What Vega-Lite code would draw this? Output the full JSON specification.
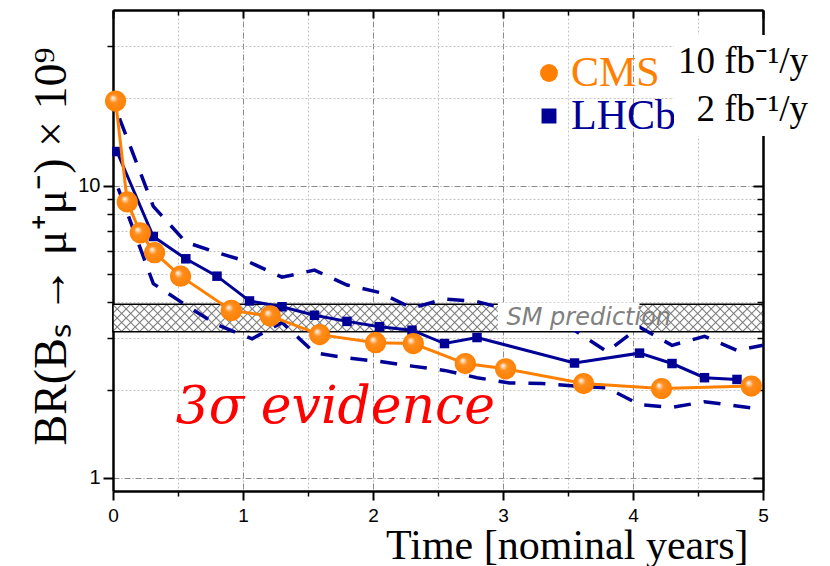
{
  "$schema": "https://vega.github.io/schema/vega-lite/v6.json",
  "width": 650,
  "height": 481,
  "autosize": {"type": "none"},
  "padding": {"left": 113, "top": 10, "right": 67, "bottom": 75},
  "background": "white",
  "config": {"view": {"stroke": null}},
  "datasets": {
    "cms": [
      {"t": 0.02, "br": 19.5, "exp": "CMS", "lumi": "10 fb⁻¹/y"},
      {"t": 0.11, "br": 8.8, "exp": "CMS", "lumi": "10 fb⁻¹/y"},
      {"t": 0.21, "br": 6.9, "exp": "CMS", "lumi": "10 fb⁻¹/y"},
      {"t": 0.32, "br": 5.9, "exp": "CMS", "lumi": "10 fb⁻¹/y"},
      {"t": 0.52, "br": 4.9, "exp": "CMS", "lumi": "10 fb⁻¹/y"},
      {"t": 0.91, "br": 3.74, "exp": "CMS", "lumi": "10 fb⁻¹/y"},
      {"t": 1.21, "br": 3.58, "exp": "CMS", "lumi": "10 fb⁻¹/y"},
      {"t": 1.59, "br": 3.09, "exp": "CMS", "lumi": "10 fb⁻¹/y"},
      {"t": 2.02, "br": 2.90, "exp": "CMS", "lumi": "10 fb⁻¹/y"},
      {"t": 2.31, "br": 2.88, "exp": "CMS", "lumi": "10 fb⁻¹/y"},
      {"t": 2.71, "br": 2.46, "exp": "CMS", "lumi": "10 fb⁻¹/y"},
      {"t": 3.02, "br": 2.36, "exp": "CMS", "lumi": "10 fb⁻¹/y"},
      {"t": 3.62, "br": 2.10, "exp": "CMS", "lumi": "10 fb⁻¹/y"},
      {"t": 4.22, "br": 2.02, "exp": "CMS", "lumi": "10 fb⁻¹/y"},
      {"t": 4.91, "br": 2.06, "exp": "CMS", "lumi": "10 fb⁻¹/y"}
    ],
    "lhcb": [
      {"t": 0.03, "br": 13.1, "exp": "LHCb", "lumi": "2 fb⁻¹/y"},
      {"t": 0.31, "br": 6.7, "exp": "LHCb", "lumi": "2 fb⁻¹/y"},
      {"t": 0.56, "br": 5.62, "exp": "LHCb", "lumi": "2 fb⁻¹/y"},
      {"t": 0.80, "br": 4.90, "exp": "LHCb", "lumi": "2 fb⁻¹/y"},
      {"t": 1.05, "br": 4.03, "exp": "LHCb", "lumi": "2 fb⁻¹/y"},
      {"t": 1.30, "br": 3.85, "exp": "LHCb", "lumi": "2 fb⁻¹/y"},
      {"t": 1.55, "br": 3.60, "exp": "LHCb", "lumi": "2 fb⁻¹/y"},
      {"t": 1.80, "br": 3.43, "exp": "LHCb", "lumi": "2 fb⁻¹/y"},
      {"t": 2.05, "br": 3.29, "exp": "LHCb", "lumi": "2 fb⁻¹/y"},
      {"t": 2.30, "br": 3.20, "exp": "LHCb", "lumi": "2 fb⁻¹/y"},
      {"t": 2.55, "br": 2.88, "exp": "LHCb", "lumi": "2 fb⁻¹/y"},
      {"t": 2.80, "br": 3.02, "exp": "LHCb", "lumi": "2 fb⁻¹/y"},
      {"t": 3.55, "br": 2.47, "exp": "LHCb", "lumi": "2 fb⁻¹/y"},
      {"t": 4.05, "br": 2.67, "exp": "LHCb", "lumi": "2 fb⁻¹/y"},
      {"t": 4.30, "br": 2.46, "exp": "LHCb", "lumi": "2 fb⁻¹/y"},
      {"t": 4.55, "br": 2.20, "exp": "LHCb", "lumi": "2 fb⁻¹/y"},
      {"t": 4.80, "br": 2.17, "exp": "LHCb", "lumi": "2 fb⁻¹/y"}
    ],
    "band": [
      {"side": "upper", "t": 0.05, "br": 17.0},
      {"side": "upper", "t": 0.31, "br": 8.5},
      {"side": "upper", "t": 0.56, "br": 6.41},
      {"side": "upper", "t": 0.80, "br": 5.90},
      {"side": "upper", "t": 1.05, "br": 5.47},
      {"side": "upper", "t": 1.30, "br": 4.86},
      {"side": "upper", "t": 1.55, "br": 5.14},
      {"side": "upper", "t": 1.80, "br": 4.57},
      {"side": "upper", "t": 2.05, "br": 4.31},
      {"side": "upper", "t": 2.30, "br": 3.81},
      {"side": "upper", "t": 2.55, "br": 4.09},
      {"side": "upper", "t": 2.80, "br": 4.01},
      {"side": "upper", "t": 3.05, "br": 3.75},
      {"side": "upper", "t": 3.30, "br": 3.49},
      {"side": "upper", "t": 3.55, "br": 3.20},
      {"side": "upper", "t": 3.80, "br": 2.70},
      {"side": "upper", "t": 4.05, "br": 3.28},
      {"side": "upper", "t": 4.30, "br": 2.84},
      {"side": "upper", "t": 4.55, "br": 3.05},
      {"side": "upper", "t": 4.80, "br": 2.73},
      {"side": "upper", "t": 5.00, "br": 2.84},
      {"side": "lower", "t": 0.04, "br": 9.8},
      {"side": "lower", "t": 0.31, "br": 4.62},
      {"side": "lower", "t": 0.56, "br": 3.90},
      {"side": "lower", "t": 0.80, "br": 3.34},
      {"side": "lower", "t": 1.07, "br": 2.99},
      {"side": "lower", "t": 1.30, "br": 3.40},
      {"side": "lower", "t": 1.55, "br": 2.68},
      {"side": "lower", "t": 1.80, "br": 2.57},
      {"side": "lower", "t": 2.05, "br": 2.50},
      {"side": "lower", "t": 2.30, "br": 2.41},
      {"side": "lower", "t": 2.55, "br": 2.33},
      {"side": "lower", "t": 2.80, "br": 2.20},
      {"side": "lower", "t": 3.05, "br": 2.11},
      {"side": "lower", "t": 3.30, "br": 2.10},
      {"side": "lower", "t": 3.55, "br": 2.06},
      {"side": "lower", "t": 3.80, "br": 2.03},
      {"side": "lower", "t": 4.05, "br": 1.78},
      {"side": "lower", "t": 4.30, "br": 1.74},
      {"side": "lower", "t": 4.55, "br": 1.82},
      {"side": "lower", "t": 4.80, "br": 1.76},
      {"side": "lower", "t": 5.00, "br": 1.71}
    ]
  },
  "resolve": {"axis": {"x": "independent", "y": "independent"}},
  "layer": [
    {
      "data": {"values": [{}]},
      "mark": {"type": "rect", "fill": {"gradient": "linear", "x1": 0, "y1": 0, "x2": 1.1057, "y2": 0.04703, "stops": [
        {"offset": 0, "color": "#ffffff"},
        {"offset": 0.0105, "color": "#ffffff"}, {"offset": 0.0125, "color": "#7a7a7a"}, {"offset": 0.0145, "color": "#ffffff"},
        {"offset": 0.023, "color": "#ffffff"}, {"offset": 0.025, "color": "#7a7a7a"}, {"offset": 0.027, "color": "#ffffff"},
        {"offset": 0.0355, "color": "#ffffff"}, {"offset": 0.0375, "color": "#7a7a7a"}, {"offset": 0.0395, "color": "#ffffff"},
        {"offset": 0.048, "color": "#ffffff"}, {"offset": 0.05, "color": "#7a7a7a"}, {"offset": 0.052, "color": "#ffffff"},
        {"offset": 0.0605, "color": "#ffffff"}, {"offset": 0.0625, "color": "#7a7a7a"}, {"offset": 0.0645, "color": "#ffffff"},
        {"offset": 0.073, "color": "#ffffff"}, {"offset": 0.075, "color": "#7a7a7a"}, {"offset": 0.077, "color": "#ffffff"},
        {"offset": 0.0855, "color": "#ffffff"}, {"offset": 0.0875, "color": "#7a7a7a"}, {"offset": 0.0895, "color": "#ffffff"},
        {"offset": 0.098, "color": "#ffffff"}, {"offset": 0.1, "color": "#7a7a7a"}, {"offset": 0.102, "color": "#ffffff"},
        {"offset": 0.1105, "color": "#ffffff"}, {"offset": 0.1125, "color": "#7a7a7a"}, {"offset": 0.1145, "color": "#ffffff"},
        {"offset": 0.123, "color": "#ffffff"}, {"offset": 0.125, "color": "#7a7a7a"}, {"offset": 0.127, "color": "#ffffff"},
        {"offset": 0.1355, "color": "#ffffff"}, {"offset": 0.1375, "color": "#7a7a7a"}, {"offset": 0.1395, "color": "#ffffff"},
        {"offset": 0.148, "color": "#ffffff"}, {"offset": 0.15, "color": "#7a7a7a"}, {"offset": 0.152, "color": "#ffffff"},
        {"offset": 0.1605, "color": "#ffffff"}, {"offset": 0.1625, "color": "#7a7a7a"}, {"offset": 0.1645, "color": "#ffffff"},
        {"offset": 0.173, "color": "#ffffff"}, {"offset": 0.175, "color": "#7a7a7a"}, {"offset": 0.177, "color": "#ffffff"},
        {"offset": 0.1855, "color": "#ffffff"}, {"offset": 0.1875, "color": "#7a7a7a"}, {"offset": 0.1895, "color": "#ffffff"},
        {"offset": 0.198, "color": "#ffffff"}, {"offset": 0.2, "color": "#7a7a7a"}, {"offset": 0.202, "color": "#ffffff"},
        {"offset": 0.2105, "color": "#ffffff"}, {"offset": 0.2125, "color": "#7a7a7a"}, {"offset": 0.2145, "color": "#ffffff"},
        {"offset": 0.223, "color": "#ffffff"}, {"offset": 0.225, "color": "#7a7a7a"}, {"offset": 0.227, "color": "#ffffff"},
        {"offset": 0.2355, "color": "#ffffff"}, {"offset": 0.2375, "color": "#7a7a7a"}, {"offset": 0.2395, "color": "#ffffff"},
        {"offset": 0.248, "color": "#ffffff"}, {"offset": 0.25, "color": "#7a7a7a"}, {"offset": 0.252, "color": "#ffffff"},
        {"offset": 0.2605, "color": "#ffffff"}, {"offset": 0.2625, "color": "#7a7a7a"}, {"offset": 0.2645, "color": "#ffffff"},
        {"offset": 0.273, "color": "#ffffff"}, {"offset": 0.275, "color": "#7a7a7a"}, {"offset": 0.277, "color": "#ffffff"},
        {"offset": 0.2855, "color": "#ffffff"}, {"offset": 0.2875, "color": "#7a7a7a"}, {"offset": 0.2895, "color": "#ffffff"},
        {"offset": 0.298, "color": "#ffffff"}, {"offset": 0.3, "color": "#7a7a7a"}, {"offset": 0.302, "color": "#ffffff"},
        {"offset": 0.3105, "color": "#ffffff"}, {"offset": 0.3125, "color": "#7a7a7a"}, {"offset": 0.3145, "color": "#ffffff"},
        {"offset": 0.323, "color": "#ffffff"}, {"offset": 0.325, "color": "#7a7a7a"}, {"offset": 0.327, "color": "#ffffff"},
        {"offset": 0.3355, "color": "#ffffff"}, {"offset": 0.3375, "color": "#7a7a7a"}, {"offset": 0.3395, "color": "#ffffff"},
        {"offset": 0.348, "color": "#ffffff"}, {"offset": 0.35, "color": "#7a7a7a"}, {"offset": 0.352, "color": "#ffffff"},
        {"offset": 0.3605, "color": "#ffffff"}, {"offset": 0.3625, "color": "#7a7a7a"}, {"offset": 0.3645, "color": "#ffffff"},
        {"offset": 0.373, "color": "#ffffff"}, {"offset": 0.375, "color": "#7a7a7a"}, {"offset": 0.377, "color": "#ffffff"},
        {"offset": 0.3855, "color": "#ffffff"}, {"offset": 0.3875, "color": "#7a7a7a"}, {"offset": 0.3895, "color": "#ffffff"},
        {"offset": 0.398, "color": "#ffffff"}, {"offset": 0.4, "color": "#7a7a7a"}, {"offset": 0.402, "color": "#ffffff"},
        {"offset": 0.4105, "color": "#ffffff"}, {"offset": 0.4125, "color": "#7a7a7a"}, {"offset": 0.4145, "color": "#ffffff"},
        {"offset": 0.423, "color": "#ffffff"}, {"offset": 0.425, "color": "#7a7a7a"}, {"offset": 0.427, "color": "#ffffff"},
        {"offset": 0.4355, "color": "#ffffff"}, {"offset": 0.4375, "color": "#7a7a7a"}, {"offset": 0.4395, "color": "#ffffff"},
        {"offset": 0.448, "color": "#ffffff"}, {"offset": 0.45, "color": "#7a7a7a"}, {"offset": 0.452, "color": "#ffffff"},
        {"offset": 0.4605, "color": "#ffffff"}, {"offset": 0.4625, "color": "#7a7a7a"}, {"offset": 0.4645, "color": "#ffffff"},
        {"offset": 0.473, "color": "#ffffff"}, {"offset": 0.475, "color": "#7a7a7a"}, {"offset": 0.477, "color": "#ffffff"},
        {"offset": 0.4855, "color": "#ffffff"}, {"offset": 0.4875, "color": "#7a7a7a"}, {"offset": 0.4895, "color": "#ffffff"},
        {"offset": 0.498, "color": "#ffffff"}, {"offset": 0.5, "color": "#7a7a7a"}, {"offset": 0.502, "color": "#ffffff"},
        {"offset": 0.5105, "color": "#ffffff"}, {"offset": 0.5125, "color": "#7a7a7a"}, {"offset": 0.5145, "color": "#ffffff"},
        {"offset": 0.523, "color": "#ffffff"}, {"offset": 0.525, "color": "#7a7a7a"}, {"offset": 0.527, "color": "#ffffff"},
        {"offset": 0.5355, "color": "#ffffff"}, {"offset": 0.5375, "color": "#7a7a7a"}, {"offset": 0.5395, "color": "#ffffff"},
        {"offset": 0.548, "color": "#ffffff"}, {"offset": 0.55, "color": "#7a7a7a"}, {"offset": 0.552, "color": "#ffffff"},
        {"offset": 0.5605, "color": "#ffffff"}, {"offset": 0.5625, "color": "#7a7a7a"}, {"offset": 0.5645, "color": "#ffffff"},
        {"offset": 0.573, "color": "#ffffff"}, {"offset": 0.575, "color": "#7a7a7a"}, {"offset": 0.577, "color": "#ffffff"},
        {"offset": 0.5855, "color": "#ffffff"}, {"offset": 0.5875, "color": "#7a7a7a"}, {"offset": 0.5895, "color": "#ffffff"},
        {"offset": 0.598, "color": "#ffffff"}, {"offset": 0.6, "color": "#7a7a7a"}, {"offset": 0.602, "color": "#ffffff"},
        {"offset": 0.6105, "color": "#ffffff"}, {"offset": 0.6125, "color": "#7a7a7a"}, {"offset": 0.6145, "color": "#ffffff"},
        {"offset": 0.623, "color": "#ffffff"}, {"offset": 0.625, "color": "#7a7a7a"}, {"offset": 0.627, "color": "#ffffff"},
        {"offset": 0.6355, "color": "#ffffff"}, {"offset": 0.6375, "color": "#7a7a7a"}, {"offset": 0.6395, "color": "#ffffff"},
        {"offset": 0.648, "color": "#ffffff"}, {"offset": 0.65, "color": "#7a7a7a"}, {"offset": 0.652, "color": "#ffffff"},
        {"offset": 0.6605, "color": "#ffffff"}, {"offset": 0.6625, "color": "#7a7a7a"}, {"offset": 0.6645, "color": "#ffffff"},
        {"offset": 0.673, "color": "#ffffff"}, {"offset": 0.675, "color": "#7a7a7a"}, {"offset": 0.677, "color": "#ffffff"},
        {"offset": 0.6855, "color": "#ffffff"}, {"offset": 0.6875, "color": "#7a7a7a"}, {"offset": 0.6895, "color": "#ffffff"},
        {"offset": 0.698, "color": "#ffffff"}, {"offset": 0.7, "color": "#7a7a7a"}, {"offset": 0.702, "color": "#ffffff"},
        {"offset": 0.7105, "color": "#ffffff"}, {"offset": 0.7125, "color": "#7a7a7a"}, {"offset": 0.7145, "color": "#ffffff"},
        {"offset": 0.723, "color": "#ffffff"}, {"offset": 0.725, "color": "#7a7a7a"}, {"offset": 0.727, "color": "#ffffff"},
        {"offset": 0.7355, "color": "#ffffff"}, {"offset": 0.7375, "color": "#7a7a7a"}, {"offset": 0.7395, "color": "#ffffff"},
        {"offset": 0.748, "color": "#ffffff"}, {"offset": 0.75, "color": "#7a7a7a"}, {"offset": 0.752, "color": "#ffffff"},
        {"offset": 0.7605, "color": "#ffffff"}, {"offset": 0.7625, "color": "#7a7a7a"}, {"offset": 0.7645, "color": "#ffffff"},
        {"offset": 0.773, "color": "#ffffff"}, {"offset": 0.775, "color": "#7a7a7a"}, {"offset": 0.777, "color": "#ffffff"},
        {"offset": 0.7855, "color": "#ffffff"}, {"offset": 0.7875, "color": "#7a7a7a"}, {"offset": 0.7895, "color": "#ffffff"},
        {"offset": 0.798, "color": "#ffffff"}, {"offset": 0.8, "color": "#7a7a7a"}, {"offset": 0.802, "color": "#ffffff"},
        {"offset": 0.8105, "color": "#ffffff"}, {"offset": 0.8125, "color": "#7a7a7a"}, {"offset": 0.8145, "color": "#ffffff"},
        {"offset": 0.823, "color": "#ffffff"}, {"offset": 0.825, "color": "#7a7a7a"}, {"offset": 0.827, "color": "#ffffff"},
        {"offset": 0.8355, "color": "#ffffff"}, {"offset": 0.8375, "color": "#7a7a7a"}, {"offset": 0.8395, "color": "#ffffff"},
        {"offset": 0.848, "color": "#ffffff"}, {"offset": 0.85, "color": "#7a7a7a"}, {"offset": 0.852, "color": "#ffffff"},
        {"offset": 0.8605, "color": "#ffffff"}, {"offset": 0.8625, "color": "#7a7a7a"}, {"offset": 0.8645, "color": "#ffffff"},
        {"offset": 0.873, "color": "#ffffff"}, {"offset": 0.875, "color": "#7a7a7a"}, {"offset": 0.877, "color": "#ffffff"},
        {"offset": 0.8855, "color": "#ffffff"}, {"offset": 0.8875, "color": "#7a7a7a"}, {"offset": 0.8895, "color": "#ffffff"},
        {"offset": 0.898, "color": "#ffffff"}, {"offset": 0.9, "color": "#7a7a7a"}, {"offset": 0.902, "color": "#ffffff"},
        {"offset": 0.9105, "color": "#ffffff"}, {"offset": 0.9125, "color": "#7a7a7a"}, {"offset": 0.9145, "color": "#ffffff"},
        {"offset": 0.923, "color": "#ffffff"}, {"offset": 0.925, "color": "#7a7a7a"}, {"offset": 0.927, "color": "#ffffff"},
        {"offset": 0.9355, "color": "#ffffff"}, {"offset": 0.9375, "color": "#7a7a7a"}, {"offset": 0.9395, "color": "#ffffff"},
        {"offset": 0.948, "color": "#ffffff"}, {"offset": 0.95, "color": "#7a7a7a"}, {"offset": 0.952, "color": "#ffffff"},
        {"offset": 1, "color": "#ffffff"}
      ]}},
      "encoding": {
        "x": {"datum": 0, "type": "quantitative", "scale": {"domain": [0, 5], "nice": false, "zero": false}, "axis": null},
        "x2": {"datum": 5},
        "y": {"datum": 3.16, "type": "quantitative", "scale": {"type": "log", "domain": [0.9, 40], "nice": false}, "axis": null},
        "y2": {"datum": 3.93}
      }
    },
    {
      "data": {"values": [{}]},
      "mark": {"type": "rect", "stroke": "black", "strokeWidth": 1.5, "fill": {"gradient": "linear", "x1": 0, "y1": 1, "x2": 1.1057, "y2": 0.95297, "stops": [
        {"offset": 0, "color": "rgba(122,122,122,0)"},
        {"offset": 0.0105, "color": "rgba(122,122,122,0)"}, {"offset": 0.0125, "color": "#7a7a7a"}, {"offset": 0.0145, "color": "rgba(122,122,122,0)"},
        {"offset": 0.023, "color": "rgba(122,122,122,0)"}, {"offset": 0.025, "color": "#7a7a7a"}, {"offset": 0.027, "color": "rgba(122,122,122,0)"},
        {"offset": 0.0355, "color": "rgba(122,122,122,0)"}, {"offset": 0.0375, "color": "#7a7a7a"}, {"offset": 0.0395, "color": "rgba(122,122,122,0)"},
        {"offset": 0.048, "color": "rgba(122,122,122,0)"}, {"offset": 0.05, "color": "#7a7a7a"}, {"offset": 0.052, "color": "rgba(122,122,122,0)"},
        {"offset": 0.0605, "color": "rgba(122,122,122,0)"}, {"offset": 0.0625, "color": "#7a7a7a"}, {"offset": 0.0645, "color": "rgba(122,122,122,0)"},
        {"offset": 0.073, "color": "rgba(122,122,122,0)"}, {"offset": 0.075, "color": "#7a7a7a"}, {"offset": 0.077, "color": "rgba(122,122,122,0)"},
        {"offset": 0.0855, "color": "rgba(122,122,122,0)"}, {"offset": 0.0875, "color": "#7a7a7a"}, {"offset": 0.0895, "color": "rgba(122,122,122,0)"},
        {"offset": 0.098, "color": "rgba(122,122,122,0)"}, {"offset": 0.1, "color": "#7a7a7a"}, {"offset": 0.102, "color": "rgba(122,122,122,0)"},
        {"offset": 0.1105, "color": "rgba(122,122,122,0)"}, {"offset": 0.1125, "color": "#7a7a7a"}, {"offset": 0.1145, "color": "rgba(122,122,122,0)"},
        {"offset": 0.123, "color": "rgba(122,122,122,0)"}, {"offset": 0.125, "color": "#7a7a7a"}, {"offset": 0.127, "color": "rgba(122,122,122,0)"},
        {"offset": 0.1355, "color": "rgba(122,122,122,0)"}, {"offset": 0.1375, "color": "#7a7a7a"}, {"offset": 0.1395, "color": "rgba(122,122,122,0)"},
        {"offset": 0.148, "color": "rgba(122,122,122,0)"}, {"offset": 0.15, "color": "#7a7a7a"}, {"offset": 0.152, "color": "rgba(122,122,122,0)"},
        {"offset": 0.1605, "color": "rgba(122,122,122,0)"}, {"offset": 0.1625, "color": "#7a7a7a"}, {"offset": 0.1645, "color": "rgba(122,122,122,0)"},
        {"offset": 0.173, "color": "rgba(122,122,122,0)"}, {"offset": 0.175, "color": "#7a7a7a"}, {"offset": 0.177, "color": "rgba(122,122,122,0)"},
        {"offset": 0.1855, "color": "rgba(122,122,122,0)"}, {"offset": 0.1875, "color": "#7a7a7a"}, {"offset": 0.1895, "color": "rgba(122,122,122,0)"},
        {"offset": 0.198, "color": "rgba(122,122,122,0)"}, {"offset": 0.2, "color": "#7a7a7a"}, {"offset": 0.202, "color": "rgba(122,122,122,0)"},
        {"offset": 0.2105, "color": "rgba(122,122,122,0)"}, {"offset": 0.2125, "color": "#7a7a7a"}, {"offset": 0.2145, "color": "rgba(122,122,122,0)"},
        {"offset": 0.223, "color": "rgba(122,122,122,0)"}, {"offset": 0.225, "color": "#7a7a7a"}, {"offset": 0.227, "color": "rgba(122,122,122,0)"},
        {"offset": 0.2355, "color": "rgba(122,122,122,0)"}, {"offset": 0.2375, "color": "#7a7a7a"}, {"offset": 0.2395, "color": "rgba(122,122,122,0)"},
        {"offset": 0.248, "color": "rgba(122,122,122,0)"}, {"offset": 0.25, "color": "#7a7a7a"}, {"offset": 0.252, "color": "rgba(122,122,122,0)"},
        {"offset": 0.2605, "color": "rgba(122,122,122,0)"}, {"offset": 0.2625, "color": "#7a7a7a"}, {"offset": 0.2645, "color": "rgba(122,122,122,0)"},
        {"offset": 0.273, "color": "rgba(122,122,122,0)"}, {"offset": 0.275, "color": "#7a7a7a"}, {"offset": 0.277, "color": "rgba(122,122,122,0)"},
        {"offset": 0.2855, "color": "rgba(122,122,122,0)"}, {"offset": 0.2875, "color": "#7a7a7a"}, {"offset": 0.2895, "color": "rgba(122,122,122,0)"},
        {"offset": 0.298, "color": "rgba(122,122,122,0)"}, {"offset": 0.3, "color": "#7a7a7a"}, {"offset": 0.302, "color": "rgba(122,122,122,0)"},
        {"offset": 0.3105, "color": "rgba(122,122,122,0)"}, {"offset": 0.3125, "color": "#7a7a7a"}, {"offset": 0.3145, "color": "rgba(122,122,122,0)"},
        {"offset": 0.323, "color": "rgba(122,122,122,0)"}, {"offset": 0.325, "color": "#7a7a7a"}, {"offset": 0.327, "color": "rgba(122,122,122,0)"},
        {"offset": 0.3355, "color": "rgba(122,122,122,0)"}, {"offset": 0.3375, "color": "#7a7a7a"}, {"offset": 0.3395, "color": "rgba(122,122,122,0)"},
        {"offset": 0.348, "color": "rgba(122,122,122,0)"}, {"offset": 0.35, "color": "#7a7a7a"}, {"offset": 0.352, "color": "rgba(122,122,122,0)"},
        {"offset": 0.3605, "color": "rgba(122,122,122,0)"}, {"offset": 0.3625, "color": "#7a7a7a"}, {"offset": 0.3645, "color": "rgba(122,122,122,0)"},
        {"offset": 0.373, "color": "rgba(122,122,122,0)"}, {"offset": 0.375, "color": "#7a7a7a"}, {"offset": 0.377, "color": "rgba(122,122,122,0)"},
        {"offset": 0.3855, "color": "rgba(122,122,122,0)"}, {"offset": 0.3875, "color": "#7a7a7a"}, {"offset": 0.3895, "color": "rgba(122,122,122,0)"},
        {"offset": 0.398, "color": "rgba(122,122,122,0)"}, {"offset": 0.4, "color": "#7a7a7a"}, {"offset": 0.402, "color": "rgba(122,122,122,0)"},
        {"offset": 0.4105, "color": "rgba(122,122,122,0)"}, {"offset": 0.4125, "color": "#7a7a7a"}, {"offset": 0.4145, "color": "rgba(122,122,122,0)"},
        {"offset": 0.423, "color": "rgba(122,122,122,0)"}, {"offset": 0.425, "color": "#7a7a7a"}, {"offset": 0.427, "color": "rgba(122,122,122,0)"},
        {"offset": 0.4355, "color": "rgba(122,122,122,0)"}, {"offset": 0.4375, "color": "#7a7a7a"}, {"offset": 0.4395, "color": "rgba(122,122,122,0)"},
        {"offset": 0.448, "color": "rgba(122,122,122,0)"}, {"offset": 0.45, "color": "#7a7a7a"}, {"offset": 0.452, "color": "rgba(122,122,122,0)"},
        {"offset": 0.4605, "color": "rgba(122,122,122,0)"}, {"offset": 0.4625, "color": "#7a7a7a"}, {"offset": 0.4645, "color": "rgba(122,122,122,0)"},
        {"offset": 0.473, "color": "rgba(122,122,122,0)"}, {"offset": 0.475, "color": "#7a7a7a"}, {"offset": 0.477, "color": "rgba(122,122,122,0)"},
        {"offset": 0.4855, "color": "rgba(122,122,122,0)"}, {"offset": 0.4875, "color": "#7a7a7a"}, {"offset": 0.4895, "color": "rgba(122,122,122,0)"},
        {"offset": 0.498, "color": "rgba(122,122,122,0)"}, {"offset": 0.5, "color": "#7a7a7a"}, {"offset": 0.502, "color": "rgba(122,122,122,0)"},
        {"offset": 0.5105, "color": "rgba(122,122,122,0)"}, {"offset": 0.5125, "color": "#7a7a7a"}, {"offset": 0.5145, "color": "rgba(122,122,122,0)"},
        {"offset": 0.523, "color": "rgba(122,122,122,0)"}, {"offset": 0.525, "color": "#7a7a7a"}, {"offset": 0.527, "color": "rgba(122,122,122,0)"},
        {"offset": 0.5355, "color": "rgba(122,122,122,0)"}, {"offset": 0.5375, "color": "#7a7a7a"}, {"offset": 0.5395, "color": "rgba(122,122,122,0)"},
        {"offset": 0.548, "color": "rgba(122,122,122,0)"}, {"offset": 0.55, "color": "#7a7a7a"}, {"offset": 0.552, "color": "rgba(122,122,122,0)"},
        {"offset": 0.5605, "color": "rgba(122,122,122,0)"}, {"offset": 0.5625, "color": "#7a7a7a"}, {"offset": 0.5645, "color": "rgba(122,122,122,0)"},
        {"offset": 0.573, "color": "rgba(122,122,122,0)"}, {"offset": 0.575, "color": "#7a7a7a"}, {"offset": 0.577, "color": "rgba(122,122,122,0)"},
        {"offset": 0.5855, "color": "rgba(122,122,122,0)"}, {"offset": 0.5875, "color": "#7a7a7a"}, {"offset": 0.5895, "color": "rgba(122,122,122,0)"},
        {"offset": 0.598, "color": "rgba(122,122,122,0)"}, {"offset": 0.6, "color": "#7a7a7a"}, {"offset": 0.602, "color": "rgba(122,122,122,0)"},
        {"offset": 0.6105, "color": "rgba(122,122,122,0)"}, {"offset": 0.6125, "color": "#7a7a7a"}, {"offset": 0.6145, "color": "rgba(122,122,122,0)"},
        {"offset": 0.623, "color": "rgba(122,122,122,0)"}, {"offset": 0.625, "color": "#7a7a7a"}, {"offset": 0.627, "color": "rgba(122,122,122,0)"},
        {"offset": 0.6355, "color": "rgba(122,122,122,0)"}, {"offset": 0.6375, "color": "#7a7a7a"}, {"offset": 0.6395, "color": "rgba(122,122,122,0)"},
        {"offset": 0.648, "color": "rgba(122,122,122,0)"}, {"offset": 0.65, "color": "#7a7a7a"}, {"offset": 0.652, "color": "rgba(122,122,122,0)"},
        {"offset": 0.6605, "color": "rgba(122,122,122,0)"}, {"offset": 0.6625, "color": "#7a7a7a"}, {"offset": 0.6645, "color": "rgba(122,122,122,0)"},
        {"offset": 0.673, "color": "rgba(122,122,122,0)"}, {"offset": 0.675, "color": "#7a7a7a"}, {"offset": 0.677, "color": "rgba(122,122,122,0)"},
        {"offset": 0.6855, "color": "rgba(122,122,122,0)"}, {"offset": 0.6875, "color": "#7a7a7a"}, {"offset": 0.6895, "color": "rgba(122,122,122,0)"},
        {"offset": 0.698, "color": "rgba(122,122,122,0)"}, {"offset": 0.7, "color": "#7a7a7a"}, {"offset": 0.702, "color": "rgba(122,122,122,0)"},
        {"offset": 0.7105, "color": "rgba(122,122,122,0)"}, {"offset": 0.7125, "color": "#7a7a7a"}, {"offset": 0.7145, "color": "rgba(122,122,122,0)"},
        {"offset": 0.723, "color": "rgba(122,122,122,0)"}, {"offset": 0.725, "color": "#7a7a7a"}, {"offset": 0.727, "color": "rgba(122,122,122,0)"},
        {"offset": 0.7355, "color": "rgba(122,122,122,0)"}, {"offset": 0.7375, "color": "#7a7a7a"}, {"offset": 0.7395, "color": "rgba(122,122,122,0)"},
        {"offset": 0.748, "color": "rgba(122,122,122,0)"}, {"offset": 0.75, "color": "#7a7a7a"}, {"offset": 0.752, "color": "rgba(122,122,122,0)"},
        {"offset": 0.7605, "color": "rgba(122,122,122,0)"}, {"offset": 0.7625, "color": "#7a7a7a"}, {"offset": 0.7645, "color": "rgba(122,122,122,0)"},
        {"offset": 0.773, "color": "rgba(122,122,122,0)"}, {"offset": 0.775, "color": "#7a7a7a"}, {"offset": 0.777, "color": "rgba(122,122,122,0)"},
        {"offset": 0.7855, "color": "rgba(122,122,122,0)"}, {"offset": 0.7875, "color": "#7a7a7a"}, {"offset": 0.7895, "color": "rgba(122,122,122,0)"},
        {"offset": 0.798, "color": "rgba(122,122,122,0)"}, {"offset": 0.8, "color": "#7a7a7a"}, {"offset": 0.802, "color": "rgba(122,122,122,0)"},
        {"offset": 0.8105, "color": "rgba(122,122,122,0)"}, {"offset": 0.8125, "color": "#7a7a7a"}, {"offset": 0.8145, "color": "rgba(122,122,122,0)"},
        {"offset": 0.823, "color": "rgba(122,122,122,0)"}, {"offset": 0.825, "color": "#7a7a7a"}, {"offset": 0.827, "color": "rgba(122,122,122,0)"},
        {"offset": 0.8355, "color": "rgba(122,122,122,0)"}, {"offset": 0.8375, "color": "#7a7a7a"}, {"offset": 0.8395, "color": "rgba(122,122,122,0)"},
        {"offset": 0.848, "color": "rgba(122,122,122,0)"}, {"offset": 0.85, "color": "#7a7a7a"}, {"offset": 0.852, "color": "rgba(122,122,122,0)"},
        {"offset": 0.8605, "color": "rgba(122,122,122,0)"}, {"offset": 0.8625, "color": "#7a7a7a"}, {"offset": 0.8645, "color": "rgba(122,122,122,0)"},
        {"offset": 0.873, "color": "rgba(122,122,122,0)"}, {"offset": 0.875, "color": "#7a7a7a"}, {"offset": 0.877, "color": "rgba(122,122,122,0)"},
        {"offset": 0.8855, "color": "rgba(122,122,122,0)"}, {"offset": 0.8875, "color": "#7a7a7a"}, {"offset": 0.8895, "color": "rgba(122,122,122,0)"},
        {"offset": 0.898, "color": "rgba(122,122,122,0)"}, {"offset": 0.9, "color": "#7a7a7a"}, {"offset": 0.902, "color": "rgba(122,122,122,0)"},
        {"offset": 0.9105, "color": "rgba(122,122,122,0)"}, {"offset": 0.9125, "color": "#7a7a7a"}, {"offset": 0.9145, "color": "rgba(122,122,122,0)"},
        {"offset": 0.923, "color": "rgba(122,122,122,0)"}, {"offset": 0.925, "color": "#7a7a7a"}, {"offset": 0.927, "color": "rgba(122,122,122,0)"},
        {"offset": 0.9355, "color": "rgba(122,122,122,0)"}, {"offset": 0.9375, "color": "#7a7a7a"}, {"offset": 0.9395, "color": "rgba(122,122,122,0)"},
        {"offset": 0.948, "color": "rgba(122,122,122,0)"}, {"offset": 0.95, "color": "#7a7a7a"}, {"offset": 0.952, "color": "rgba(122,122,122,0)"},
        {"offset": 1, "color": "rgba(122,122,122,0)"}
      ]}},
      "encoding": {
        "x": {"datum": 0, "type": "quantitative", "axis": null},
        "x2": {"datum": 5},
        "y": {"datum": 3.16, "type": "quantitative", "axis": null},
        "y2": {"datum": 3.93}
      }
    },
    {
      "data": {"name": "band"},
      "mark": {"type": "line", "color": "#000096", "strokeWidth": 3.5, "strokeDash": [17, 13]},
      "encoding": {
        "x": {"field": "t", "type": "quantitative", "scale": {"domain": [0, 5], "nice": false, "zero": false},
          "axis": {"orient": "bottom", "values": [0, 1, 2, 3, 4, 5], "format": "d", "title": "Time [nominal years]",
            "titleFont": "Liberation Serif", "titleFontSize": 42, "titleFontWeight": "normal", "titleColor": "black",
            "titleAlign": "right", "titleBaseline": "alphabetic", "titleX": 635, "titleY": 67, "titleAnchor": "end",
            "labelFont": "Liberation Sans", "labelFontSize": 19, "labelColor": "black", "labelPadding": 6, "labelFlush": false, "labelOverlap": false,
            "domain": true, "domainColor": "black", "domainWidth": 2.5, "ticks": true, "tickColor": "black", "tickWidth": 2, "tickSize": 9,
            "grid": true, "gridColor": "#8c8c8c", "gridWidth": 1, "gridDash": [6, 2, 1, 2]}},
        "y": {"field": "br", "type": "quantitative", "scale": {"type": "log", "domain": [0.9, 40], "nice": false},
          "axis": {"orient": "left", "values": [1, 10], "format": "~g", "title": "BR(Bₛ → μ⁺μ⁻) × 10⁹",
            "titleFont": "Liberation Serif", "titleFontSize": 46, "titleFontWeight": "normal", "titleColor": "black",
            "titleAngle": -90, "titleAlign": "center", "titleBaseline": "alphabetic", "titleX": -48, "titleY": 236,
            "labelFont": "Liberation Sans", "labelFontSize": 20, "labelColor": "black", "labelPadding": 3, "labelOverlap": false,
            "domain": true, "domainColor": "black", "domainWidth": 2.5, "ticks": true, "tickColor": "black", "tickWidth": 2, "tickSize": 10,
            "grid": true, "gridColor": "#8c8c8c", "gridWidth": 1, "gridDash": [6, 2, 1, 2]}},
        "detail": {"field": "side"}
      }
    },
    {
      "data": {"values": [{}]},
      "mark": {"type": "rect", "fill": "white"},
      "encoding": {
        "x": {"datum": 2.96, "type": "quantitative", "axis": null},
        "x2": {"datum": 4.05},
        "y": {"datum": 3.18, "type": "quantitative", "axis": null},
        "y2": {"datum": 3.97}
      }
    },
    {
      "data": {"values": [{}]},
      "mark": {"type": "text", "text": "SM prediction", "font": "DejaVu Sans", "fontStyle": "italic", "fontSize": 24, "color": "#808080", "align": "center", "baseline": "middle"},
      "encoding": {
        "x": {"datum": 3.66, "type": "quantitative", "axis": null},
        "y": {"datum": 3.52, "type": "quantitative", "axis": null}
      }
    },
    {
      "data": {"values": [{}]},
      "mark": {"type": "text", "text": "3σ evidence", "font": "DejaVu Serif", "fontStyle": "italic", "fontSize": 52, "color": "#ff0000", "align": "center", "baseline": "alphabetic"},
      "encoding": {
        "x": {"datum": 1.71, "type": "quantitative", "axis": null},
        "y": {"datum": 1.54, "type": "quantitative", "axis": null}
      }
    },
    {
      "data": {"name": "lhcb"},
      "mark": {"type": "line", "strokeWidth": 3},
      "encoding": {
        "x": {"field": "t", "type": "quantitative", "axis": null},
        "y": {"field": "br", "type": "quantitative", "axis": null},
        "color": {"field": "exp", "type": "nominal", "scale": {"domain": ["CMS", "LHCb"], "range": ["#ff8000", "#000096"]},
          "legend": {"orient": "none", "legendX": 415, "legendY": 42, "title": null,
            "symbolType": {"expr": "datum.value === 'CMS' ? 'circle' : 'square'"},
            "symbolSize": {"expr": "datum.value === 'CMS' ? 320 : 180"},
            "symbolFillColor": {"expr": "datum.value === 'CMS' ? '#ff8000' : '#000096'"},
            "symbolStrokeColor": {"expr": "datum.value === 'CMS' ? '#ff8000' : '#000000'"},
            "symbolStrokeWidth": {"expr": "datum.value === 'CMS' ? 0 : 1.5"},
            "symbolOpacity": 1,
            "labelColor": {"expr": "datum.value === 'CMS' ? '#ff8000' : '#000096'"},
            "labelFont": "Liberation Serif", "labelFontSize": 42, "labelOffset": 1, "rowPadding": 1, "padding": 0, "labelLimit": 300}},
        "opacity": {"field": "lumi", "type": "nominal", "scale": {"domain": ["10 fb⁻¹/y", "2 fb⁻¹/y"], "range": [1, 1]},
          "legend": {"orient": "none", "legendX": 561, "legendY": 25, "title": null, "symbolSize": 0, "symbolOpacity": 0, "symbolStrokeWidth": 0,
            "labelFont": "Liberation Serif", "labelFontSize": 37, "labelColor": "black", "labelAlign": "right", "labelOffset": 89, "rowPadding": 10, "padding": 8,
            "fillColor": "white", "labelLimit": 300}}
      }
    },
    {
      "data": {"name": "lhcb"},
      "mark": {"type": "point", "shape": "square", "filled": true, "fill": "#000096", "size": 90, "opacity": 1},
      "encoding": {
        "x": {"field": "t", "type": "quantitative",
          "axis": {"orient": "bottom", "values": [0.5, 1.5, 2.5, 3.5, 4.5], "title": null, "labels": false, "domain": false,
            "ticks": true, "tickColor": "black", "tickWidth": 1.5, "tickSize": 5,
            "grid": true, "gridColor": "#c4c4c4", "gridWidth": 1, "gridDash": [2, 2]}},
        "y": {"field": "br", "type": "quantitative",
          "axis": {"orient": "left", "values": [2, 3, 4, 5, 6, 7, 8, 9, 20, 30], "title": null, "labels": false, "domain": false,
            "ticks": true, "tickColor": "black", "tickWidth": 1.5, "tickSize": 6,
            "grid": true, "gridColor": "#c4c4c4", "gridWidth": 1, "gridDash": [2, 2]}}
      }
    },
    {
      "data": {"name": "cms"},
      "mark": {"type": "line", "strokeWidth": 3},
      "encoding": {
        "x": {"field": "t", "type": "quantitative",
          "axis": {"orient": "top", "values": [0.5, 1.5, 2.5, 3.5, 4.5], "title": null, "labels": false, "domain": false,
            "ticks": true, "tickColor": "black", "tickWidth": 1.5, "tickSize": -5, "grid": false}},
        "y": {"field": "br", "type": "quantitative",
          "axis": {"orient": "right", "values": [2, 3, 4, 5, 6, 7, 8, 9, 20, 30], "title": null, "labels": false, "domain": false,
            "ticks": true, "tickColor": "black", "tickWidth": 1.5, "tickSize": -6, "grid": false}},
        "color": {"field": "exp", "type": "nominal"},
        "opacity": {"field": "lumi", "type": "nominal"}
      }
    },
    {
      "data": {"name": "cms"},
      "mark": {"type": "point", "shape": "circle", "filled": true, "size": 450, "opacity": 1, "strokeWidth": 0,
        "fill": {"gradient": "radial", "x1": 0.36, "y1": 0.34, "r1": 0, "x2": 0.5, "y2": 0.5, "r2": 0.55,
          "stops": [
            {"offset": 0, "color": "#ffffff"},
            {"offset": 0.14, "color": "#ffd2a6"},
            {"offset": 0.35, "color": "#ff8d1c"},
            {"offset": 1, "color": "#ff7f00"}
          ]}},
      "encoding": {
        "x": {"field": "t", "type": "quantitative",
          "axis": {"orient": "top", "values": [0, 1, 2, 3, 4, 5], "title": null, "labels": false,
            "domain": true, "domainColor": "black", "domainWidth": 2.5,
            "ticks": true, "tickColor": "black", "tickWidth": 2, "tickSize": -8, "grid": false}},
        "y": {"field": "br", "type": "quantitative",
          "axis": {"orient": "right", "values": [1, 10], "title": null, "labels": false,
            "domain": true, "domainColor": "black", "domainWidth": 2.5,
            "ticks": true, "tickColor": "black", "tickWidth": 2, "tickSize": -10, "grid": false}}
      }
    }
  ]
}
